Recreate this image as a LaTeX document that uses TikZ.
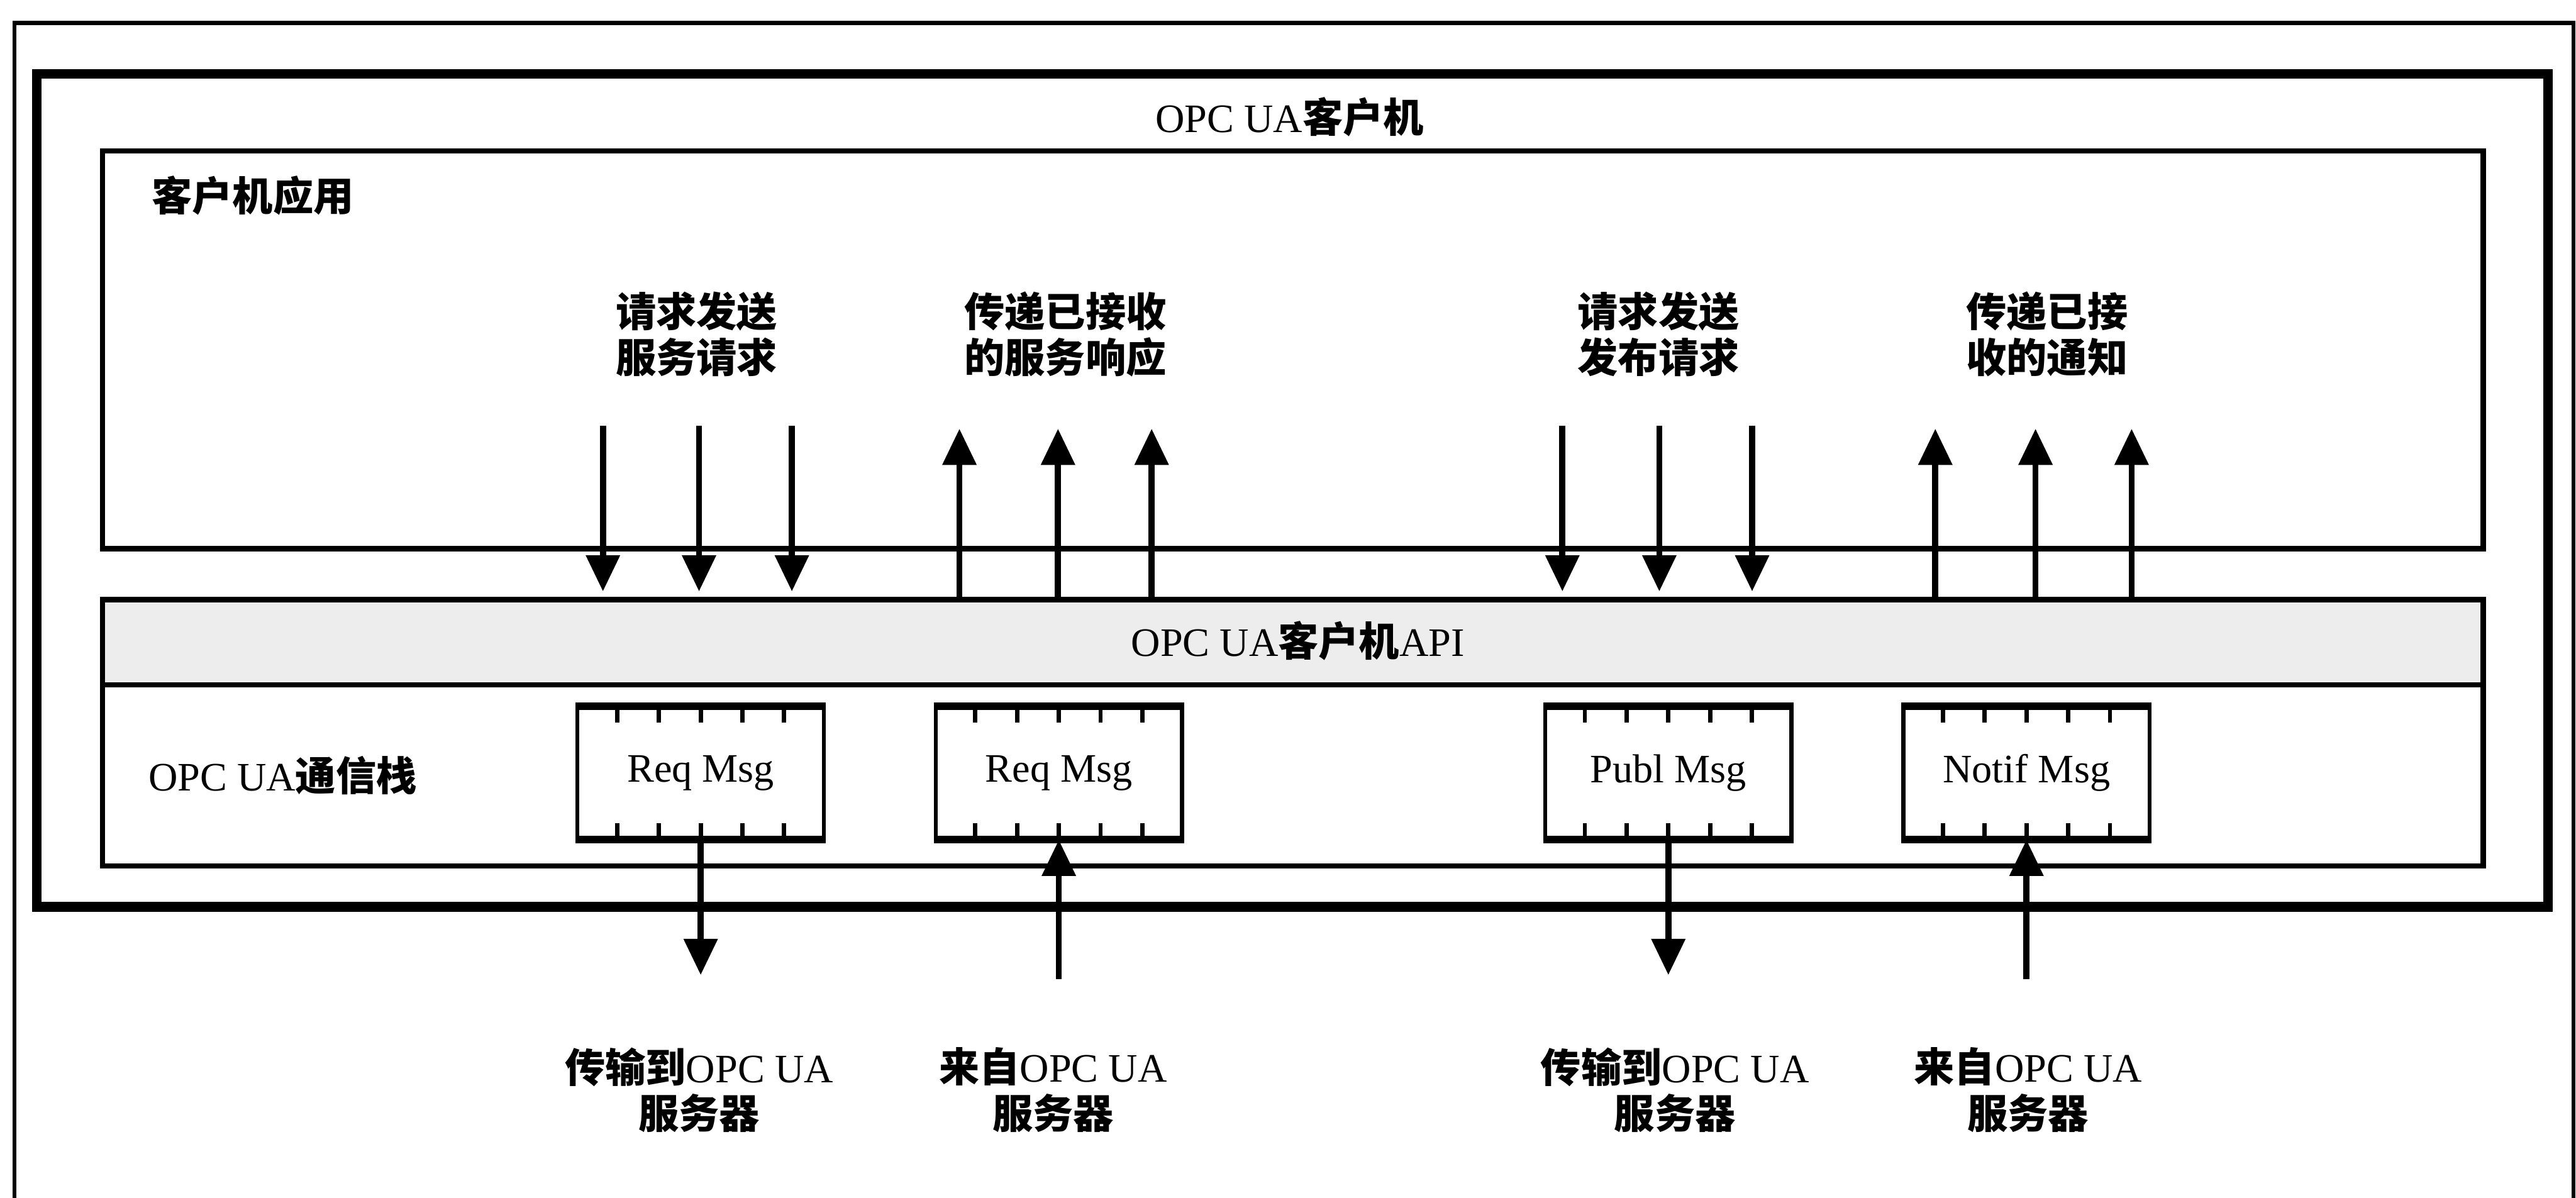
\documentclass[tikz,border=0pt]{standalone}
\usepackage{fontspec}
\setmainfont{Liberation Serif}
\newfontfamily\cjk{Noto Sans CJK SC}
\usetikzlibrary{arrows.meta,calc}
\newcommand\zh[1]{{\cjk\bfseries #1}}
\begin{document}
\begin{tikzpicture}[x=0.02cm,y=-0.02cm,
  thinframe/.style={line width=1.4pt},
  thickframe/.style={line width=3.4pt},
  boxline/.style={line width=1.8pt},
  arr/.style={line width=2.1pt,-{Triangle[length=0.44cm,width=0.40cm]}},
  lbl/.style={font=\fontsize{14}{16}\selectfont,inner sep=0pt,align=center},
  msgbox/.style={draw,line width=1.4pt,minimum width=3cm,minimum height=1.58cm,inner sep=0pt,font=\fontsize{14}{16}\selectfont},
  msgedge/.style={line width=2.6pt},
  tick/.style={line width=1.5pt}]
\useasboundingbox (0,0) rectangle (1568,729);
\fill[white] (0,0) rectangle (1568,729);

% outer thin frame (bottom edge off the page)
\draw[thinframe] (8.7,770) -- (8.7,14) -- (1566.5,14) -- (1566.5,770);
% thick client frame
\draw[thickframe] (22.4,45) rectangle (1551,552);
\node[lbl] (title) at (785,71) {OPC UA\zh{客户机}};

% client application box
\draw[boxline] (62.4,92) rectangle (1511.5,334);
\node[lbl,anchor=west] (applbl) at (92,119) {\zh{客户机应用}};

% API band and communication stack
\fill[black!7] (62.4,365) rectangle (1511.5,417);
\draw[boxline] (62.4,365) rectangle (1511.5,527);
\draw[boxline] (62.4,417) -- (1511.5,417);
\node[lbl] (apilbl) at (790,390) {OPC UA\zh{客户机}API};
\node[lbl,anchor=west] (stacklbl) at (90,472) {OPC UA\zh{通信栈}};

% message boxes
\node[msgbox] (m1) at (426.5,470.5) {Req Msg};
\node[msgbox] (m2) at (644.5,470.5) {Req Msg};
\node[msgbox] (m3) at (1015.5,470.5) {Publ Msg};
\node[msgbox] (m4) at (1233.5,470.5) {Notif Msg};
\foreach \m in {m1,m2,m3,m4}{
  \draw[msgedge] (\m.north west) -- (\m.north east);
  \draw[msgedge] (\m.south west) -- (\m.south east);
  \foreach \i in {1,...,5}{
    \draw[tick] ($(\m.north west)!\i/6!(\m.north east)$) -- ++(0,10);
    \draw[tick] ($(\m.south west)!\i/6!(\m.south east)$) -- ++(0,-10);
  }
}

% labels above the arrows
\node[lbl] (l1) at (424,203.5) {\zh{请求发送}\\\zh{服务请求}};
\node[lbl] (l2) at (648.5,203.5) {\zh{传递已接收}\\\zh{的服务响应}};
\node[lbl] (l3) at (1009.5,203.5) {\zh{请求发送}\\\zh{发布请求}};
\node[lbl] (l4) at (1246,203.5) {\zh{传递已接}\\\zh{收的通知}};

% arrows between application and API
\foreach \x [count=\i] in {367,425.5,482}{
  \coordinate (a\i s) at (\x,259); \coordinate (a\i e) at (\x,360);
  \draw[arr] (a\i s) -- (a\i e);}
\foreach \x [count=\i] in {584,644,701}{
  \coordinate (b\i s) at (\x,365); \coordinate (b\i e) at (\x,261);
  \draw[arr] (b\i s) -- (b\i e);}
\foreach \x [count=\i] in {951,1010,1066.5}{
  \coordinate (c\i s) at (\x,259); \coordinate (c\i e) at (\x,360);
  \draw[arr] (c\i s) -- (c\i e);}
\foreach \x [count=\i] in {1178,1239,1297.5}{
  \coordinate (e\i s) at (\x,365); \coordinate (e\i e) at (\x,261);
  \draw[arr] (e\i s) -- (e\i e);}

% arrows to / from the server
\coordinate (t1) at (426.5,593.5);
\coordinate (f2) at (644.5,596);
\coordinate (t3) at (1015.5,593.5);
\coordinate (f4) at (1233.5,596);
\draw[arr] (m1.south) -- (t1);
\draw[arr] (f2) -- (m2.south);
\draw[arr] (m3.south) -- (t3);
\draw[arr] (f4) -- (m4.south);

% labels below
\node[lbl] (s1) at (425.5,663.5) {\zh{传输到}OPC UA\\\zh{服务器}};
\node[lbl] (s2) at (641,663.5) {\zh{来自}OPC UA\\\zh{服务器}};
\node[lbl] (s3) at (1019.5,663.5) {\zh{传输到}OPC UA\\\zh{服务器}};
\node[lbl] (s4) at (1234.5,663.5) {\zh{来自}OPC UA\\\zh{服务器}};
\end{tikzpicture}
\end{document}
